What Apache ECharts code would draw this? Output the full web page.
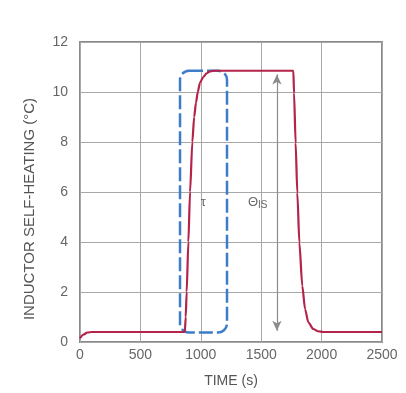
<!DOCTYPE html>
<html><head><meta charset="utf-8">
<script src="https://cdn.jsdelivr.net/npm/echarts@6/dist/echarts.min.js"></script>
<style>html,body{margin:0;padding:0;background:#fff}#c{width:406px;height:393px}</style>
</head><body><div id="c"></div>
<script>
// Inductor self-heating curve (time s, °C)
const timeS = [0, 30, 60, 100, 868, 875, 883, 897, 911, 930, 945, 960, 975, 993, 1020, 1049, 1075, 1100, 1766, 1772, 1785, 1799, 1816, 1840, 1863, 1890, 1931, 1970, 2014, 2500];
const heatC = [0.15, 0.3, 0.38, 0.4, 0.4, 1.0, 2.0, 4.0, 6.0, 8.0, 9.0, 9.57, 10.0, 10.37, 10.6, 10.75, 10.82, 10.85, 10.85, 9.95, 7.96, 5.97, 3.98, 2.25, 1.32, 0.79, 0.52, 0.43, 0.4, 0.4];
// tau box [t0, v0, t1, v1]
const tauBox = [[828, 0.38, 1217, 10.85]];
// theta arrow [t, vBottom, vTop]
const arrow = [1630, 0.45, 10.7];
// annotation labels [t, value, text]
const labels = [[1000, 5.6, 'τ'], [1390, 5.6, 'Θ{s|IS}']];
const xTicks = [0, 500, 1000, 1500, 2000, 2500];
const yTicks = [0, 2, 4, 6, 8, 10, 12];

const chart = echarts.init(document.getElementById('c'));
const font = 'Liberation Sans, Arial, sans-serif';
chart.setOption({
  animation: false,
  grid: {left: 80, right: 24, top: 42, bottom: 50, show: true, borderColor: '#8a8a8a', borderWidth: 2},
  xAxis: {
    type: 'value', min: xTicks[0], max: xTicks[xTicks.length - 1], interval: 500,
    name: 'TIME (s)', nameLocation: 'middle', nameGap: 32,
    nameTextStyle: {color: '#555', fontSize: 14, fontFamily: font},
    axisLine: {show: false}, axisTick: {show: false},
    axisLabel: {color: '#666', fontSize: 14, fontFamily: font, margin: 6, formatter: v => String(v)},
    splitLine: {lineStyle: {color: '#a8a8a8', width: 1}}
  },
  yAxis: {
    type: 'value', min: yTicks[0], max: yTicks[yTicks.length - 1], interval: 2,
    name: 'INDUCTOR SELF-HEATING (°C)', nameLocation: 'middle', nameGap: 43,
    nameTextStyle: {color: '#555', fontSize: 15, fontFamily: font, padding: [0, 34, 0, 0]},
    axisLine: {show: false}, axisTick: {show: false},
    axisLabel: {color: '#666', fontSize: 14, fontFamily: font, margin: 12},
    splitLine: {lineStyle: {color: '#a8a8a8', width: 1}}
  },
  series: [
    {
      type: 'custom', data: tauBox, z: 3,
      renderItem: function (params, api) {
        const a = api.coord([api.value(0), api.value(3)]);
        const b = api.coord([api.value(2), api.value(1)]);
        return {type: 'rect', shape: {x: a[0], y: a[1], width: b[0] - a[0], height: b[1] - a[1], r: 9},
          style: {fill: 'none', stroke: '#3d7cc9', lineWidth: 2.5, lineDash: [14, 4]}};
      }
    },
    {
      type: 'line', data: timeS.map((t, i) => [t, heatC[i]]), showSymbol: false, z: 4,
      lineStyle: {color: '#b3234a', width: 2.2}, smooth: 0.25, smoothMonotone: 'x',
      markLine: {
        silent: true, symbol: ['arrow', 'arrow'], symbolSize: [7, 10],
        lineStyle: {color: '#8c8c8c', width: 1.2, type: 'solid'},
        itemStyle: {color: '#444'},
        label: {show: false},
        data: [[{coord: [arrow[0], arrow[1]], symbol: 'arrow'}, {coord: [arrow[0], arrow[2]], symbol: 'arrow'}]]
      }
    },
    {
      type: 'scatter', symbolSize: 0, z: 5, data: labels.map(l => [l[0], l[1], l[2]]),
      label: {show: true, position: 'inside', align: 'left', color: '#444', fontSize: 13, fontFamily: font,
        formatter: p => p.data[2],
        rich: {s: {fontSize: 10, color: '#444', fontFamily: font, padding: [6, 0, 0, 0]}}}
    }
  ]
});
</script></body></html>
